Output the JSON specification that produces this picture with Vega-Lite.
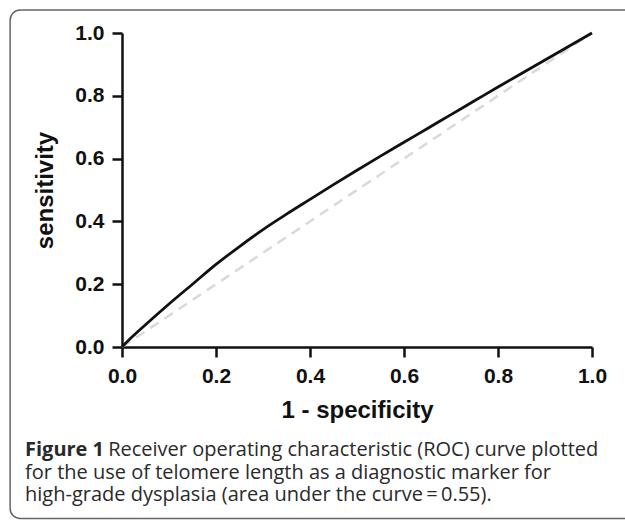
{
  "$schema": "https://vega.github.io/schema/vega-lite/v6.json",
  "autosize": "none",
  "width": 470,
  "height": 314,
  "padding": {"left": 122, "top": 33, "right": 33, "bottom": 173},
  "background": "white",
  "datasets": {
    "roc": [
      {"fpr": 0.0, "tpr": 0.0},
      {"fpr": 0.02, "tpr": 0.03},
      {"fpr": 0.05, "tpr": 0.071},
      {"fpr": 0.1, "tpr": 0.137},
      {"fpr": 0.15, "tpr": 0.2},
      {"fpr": 0.2, "tpr": 0.263},
      {"fpr": 0.25, "tpr": 0.32},
      {"fpr": 0.3, "tpr": 0.374},
      {"fpr": 0.35, "tpr": 0.423},
      {"fpr": 0.4, "tpr": 0.47},
      {"fpr": 0.45, "tpr": 0.517},
      {"fpr": 0.5, "tpr": 0.563},
      {"fpr": 0.55, "tpr": 0.608},
      {"fpr": 0.6, "tpr": 0.652},
      {"fpr": 0.65, "tpr": 0.696},
      {"fpr": 0.7, "tpr": 0.74},
      {"fpr": 0.75, "tpr": 0.784},
      {"fpr": 0.8, "tpr": 0.828},
      {"fpr": 0.85, "tpr": 0.871},
      {"fpr": 0.9, "tpr": 0.914},
      {"fpr": 0.95, "tpr": 0.957},
      {"fpr": 1.0, "tpr": 1.0}
    ],
    "chance": [
      {"fpr": 0.0, "tpr": 0.0},
      {"fpr": 1.0, "tpr": 1.0}
    ]
  },
  "title": {
    "text": "Figure 1",
    "subtitle": [
      "\u200b\u00a0\u00a0\u00a0\u00a0\u00a0\u00a0\u00a0\u00a0\u00a0\u00a0\u00a0\u00a0\u00a0\u00a0\u00a0\u00a0Receiver operating characteristic (ROC) curve plotted",
      "for the use of telomere length as a diagnostic marker for",
      "high-grade dysplasia (area under the curve\u2009=\u20090.55)."
    ],
    "orient": "bottom",
    "anchor": "start",
    "frame": "group",
    "dx": -97,
    "dy": -79,
    "offset": 0,
    "font": "Open Sans",
    "fontSize": 20,
    "fontWeight": "bold",
    "color": "#2a2a2a",
    "lineHeight": 22.5,
    "subtitleFont": "Open Sans",
    "subtitleFontSize": 20,
    "subtitleFontWeight": "normal",
    "subtitleColor": "#2a2a2a",
    "subtitleLineHeight": 22.5,
    "subtitlePadding": -20
  },
  "layer": [
    {
      "data": {"values": [{}]},
      "mark": {"type": "rect", "fill": null, "stroke": "#666666", "strokeWidth": 1.5, "cornerRadius": 10, "clip": false},
      "encoding": {
        "x": {"datum": -0.238, "type": "quantitative", "scale": {"domain": [0, 1]}},
        "x2": {"datum": 1.1},
        "y": {"datum": 1.073, "type": "quantitative", "scale": {"domain": [0, 1]}},
        "y2": {"datum": -0.546}
      }
    },
    {
      "data": {"name": "chance"},
      "mark": {"type": "line", "color": "#d9d9d9", "strokeWidth": 2.5, "strokeDash": [10, 7]},
      "encoding": {
        "x": {"field": "fpr", "type": "quantitative"},
        "y": {"field": "tpr", "type": "quantitative"}
      }
    },
    {
      "data": {"name": "roc"},
      "mark": {"type": "line", "color": "#111111", "strokeWidth": 2.8, "interpolate": "monotone"},
      "encoding": {
        "x": {
          "field": "fpr", "type": "quantitative",
          "scale": {"domain": [0, 1], "nice": false, "zero": false},
          "axis": {"title": "1 - specificity", "values": [0, 0.2, 0.4, 0.6, 0.8, 1.0], "format": ".1f"}
        },
        "y": {
          "field": "tpr", "type": "quantitative",
          "scale": {"domain": [0, 1], "nice": false, "zero": false},
          "axis": {"title": "sensitivity", "values": [0, 0.2, 0.4, 0.6, 0.8, 1.0], "format": ".1f", "titlePadding": 17}
        }
      }
    }
  ],
  "config": {
    "view": {"stroke": null},
    "axis": {
      "grid": false,
      "domainColor": "#111111",
      "domainWidth": 2.5,
      "tickColor": "#111111",
      "tickWidth": 2.5,
      "tickSize": 10,
      "labelFlush": false,
      "labelOverlap": false,
      "labelFont": "Liberation Sans",
      "labelFontSize": 21,
      "labelFontWeight": "bold",
      "labelColor": "#111111",
      "labelPadding": 8,
      "titleFont": "Liberation Sans",
      "titleFontSize": 24,
      "titleFontWeight": "bold",
      "titleColor": "#111111",
      "titlePadding": 12
    }
  }
}
